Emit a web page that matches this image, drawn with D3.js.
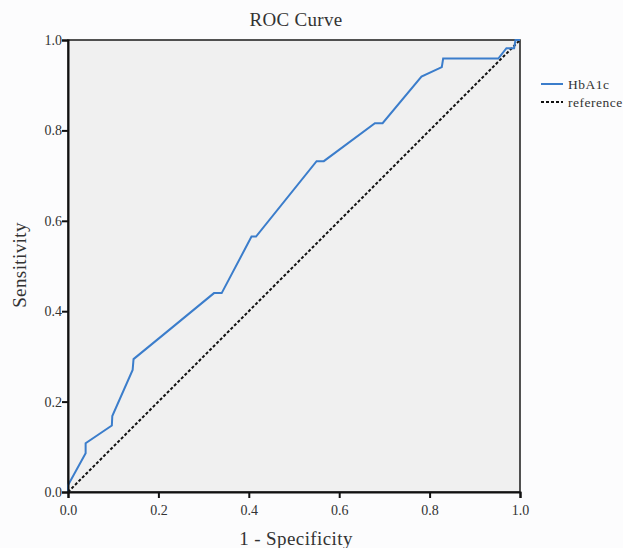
<!DOCTYPE html>
<html lang="en">
<head>
    <meta charset="UTF-8">
    <script src="https://d3js.org/d3.v7.min.js"></script>
    <title>ROC Curve</title>
    <style>
        body { margin: 0; background: #fcfcfd; }
        text { font-family: "Liberation Serif", "DejaVu Serif", serif; fill: #333; }
    </style>
</head>
<body>
    <figure style="margin:0"></figure>
    <script>
        // data
        const fpr = [0, 0, 0.039, 0.039, 0.097, 0.098, 0.143, 0.145, 0.222, 0.323, 0.340, 0.406, 0.416,
                     0.550, 0.566, 0.679, 0.696, 0.782, 0.827, 0.830, 0.952, 0.970, 0.987, 0.990, 1];
        const tpr = [0, 0.015, 0.086, 0.108, 0.147, 0.168, 0.270, 0.294, 0.357, 0.440, 0.440, 0.565, 0.565,
                     0.732, 0.732, 0.816, 0.816, 0.919, 0.940, 0.959, 0.959, 0.982, 0.982, 1.0, 1];
        const refX = [0, 1];
        const refY = [0, 1];
        const ticks = [0, 0.2, 0.4, 0.6, 0.8, 1.0];
        const seriesNames = ["HbA1c", "reference"];

        const w = 623;
        const h = 548;
        const pLeft = 68, pRight = 520, pTop = 40, pBottom = 492;

        const xScale = d3.scaleLinear().domain([0, 1]).range([pLeft, pRight]);
        const yScale = d3.scaleLinear().domain([0, 1]).range([pBottom, pTop]);

        const svg = d3.select("figure")
            .append("svg")
            .attr("width", w)
            .attr("height", h);

        // plot background
        svg.append("rect")
            .attr("x", pLeft)
            .attr("y", pTop)
            .attr("width", pRight - pLeft)
            .attr("height", pBottom - pTop)
            .attr("fill", "#f0f0f0")
            .attr("stroke", "#1a1a1a")
            .attr("stroke-width", 1.5);

        const line = d3.line()
            .x(d => xScale(d[0]))
            .y(d => yScale(d[1]));

        //reference diagonal
        svg.append("path")
            .datum(refX.map((x, i) => [x, refY[i]]))
            .attr("d", line)
            .attr("fill", "none")
            .attr("stroke", "#111")
            .attr("stroke-width", 2)
            .attr("stroke-dasharray", "3,2");

        //roc curve
        svg.append("path")
            .datum(fpr.map((x, i) => [x, tpr[i]]))
            .attr("d", line)
            .attr("fill", "none")
            .attr("stroke", "#3b7dcb")
            .attr("stroke-width", 2);

        //x-axis
        const xAxis = d3.axisBottom(xScale).tickValues(ticks).tickFormat(d3.format(".1f")).tickSizeOuter(0).tickSize(6);
        const gx = svg.append("g")
            .attr("transform", "translate(0, " + pBottom + ")")
            .call(xAxis);

        //y-axis
        const yAxis = d3.axisLeft(yScale).tickValues(ticks).tickFormat(d3.format(".1f")).tickSizeOuter(0).tickSize(6);
        const gy = svg.append("g")
            .attr("transform", "translate(" + pLeft + ", 0)")
            .call(yAxis);

        [gx, gy].forEach(g => {
            g.select(".domain").attr("stroke", "#111").attr("stroke-width", 2);
            g.selectAll(".tick line").attr("stroke", "#111").attr("stroke-width", 2);
            g.selectAll(".tick text")
                .style("font-family", "'Liberation Serif', serif")
                .style("font-size", "14px")
                .attr("fill", "#555");
        });
        gx.selectAll(".tick text").attr("dy", "1.0em");
        gy.selectAll(".tick text").attr("x", -6);

        //titles
        svg.append("text")
            .attr("x", (pLeft + pRight) / 2 + 2)
            .attr("y", 26)
            .attr("text-anchor", "middle")
            .style("font-size", "19px")
            .style("letter-spacing", "0.3px")
            .text("ROC Curve");

        svg.append("text")
            .attr("x", (pLeft + pRight) / 2 + 2)
            .attr("y", 545)
            .attr("text-anchor", "middle")
            .style("font-size", "19px")
            .style("letter-spacing", "0.4px")
            .text("1 - Specificity");

        svg.append("text")
            .attr("transform", "translate(26, " + ((pTop + pBottom) / 2 - 1) + ") rotate(-90)")
            .attr("text-anchor", "middle")
            .style("font-size", "19px")
            .style("letter-spacing", "0.4px")
            .text("Sensitivity");

        //legend
        const legend = svg.append("g").attr("transform", "translate(541, 84)");
        seriesNames.forEach((name, i) => {
            legend.append("line")
                .attr("x1", 0).attr("x2", 22)
                .attr("y1", i * 18).attr("y2", i * 18)
                .attr("stroke", i === 0 ? "#3b7dcb" : "#111")
                .attr("stroke-width", 2)
                .attr("stroke-dasharray", i === 0 ? null : "3,2");
            legend.append("text")
                .attr("x", 27)
                .attr("y", i * 18 + 4.5)
                .style("font-size", "13.5px")
                .style("letter-spacing", "0.5px")
                .text(name);
        });
    </script>
</body>
</html>
